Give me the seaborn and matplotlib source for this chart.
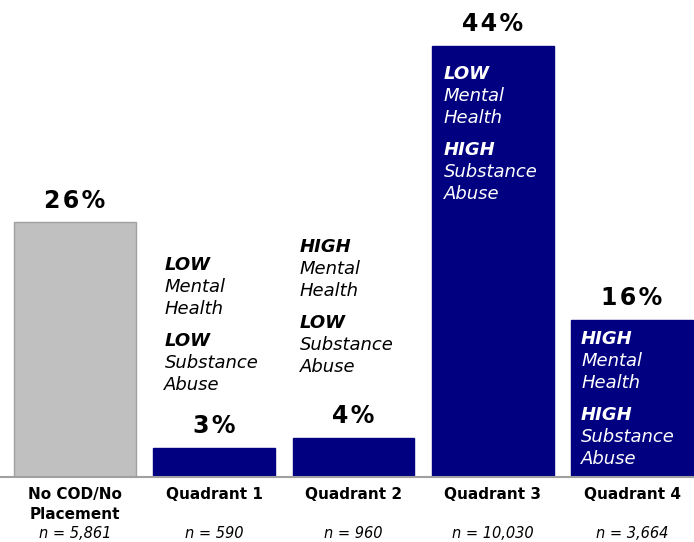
import matplotlib
matplotlib.use("Agg")
import matplotlib.pyplot as plt
import matplotlib.transforms as mtransforms
import seaborn as sns

# data
categories = ["No COD/No\nPlacement", "Quadrant 1", "Quadrant 2", "Quadrant 3", "Quadrant 4"]
percents = [26, 3, 4, 44, 16]
n_labels = ["n = 5,861", "n = 590", "n = 960", "n = 10,030", "n = 3,664"]
mental_level = [None, "LOW", "HIGH", "LOW", "HIGH"]
substance_level = [None, "LOW", "LOW", "HIGH", "HIGH"]
bar_colors = ["#C0C0C0", "#000080", "#000080", "#000080", "#000080"]

sns.set_style("white")
plt.rcParams["font.family"] = ["DejaVu Sans"]

fig = plt.figure(figsize=(6.94, 5.42), dpi=100)
ax = fig.add_axes([0, 65 / 542, 1, 477 / 542])

W = 0.875
sns.barplot(x=list(range(len(percents))), y=percents, hue=list(range(len(percents))),
            palette=bar_colors, width=W, saturation=1, legend=False, ax=ax, native_scale=True)
for i, p in enumerate(ax.patches):
    p.set_edgecolor("#A0A0A0" if i == 0 else bar_colors[i])
    p.set_linewidth(1.0)

ax.set_xlim(-0.538, 4.445)
ax.set_ylim(0, 48.7)
for s in ["top", "right", "left"]:
    ax.spines[s].set_visible(False)
ax.spines["bottom"].set_color("#A0A0A0")
ax.spines["bottom"].set_linewidth(1.5)
ax.set_xticks([])
ax.set_yticks([])
ax.set_xlabel("")
ax.set_ylabel("")

# percent labels (hair spaces give the wide letter spacing)
for i, v in enumerate(percents):
    lbl = "\u200a".join(f"{v}%")
    ax.text(i, v + 1.0, lbl, ha="center", va="bottom", fontsize=17, fontweight="bold", color="black")

# quadrant descriptions (block top in data units, x offset from bar left)
block_top = [None, 21.6, 23.45, 41.1, 14.1]
x_off = [None, 0.08, 0.05, 0.086, 0.072]
text_col = [None, "black", "black", "white", "white"]
step = 22 / 9.8
gap = 10 / 9.8
for i in range(1, len(percents)):
    x0 = i - W / 2 + x_off[i]
    y = block_top[i]
    lines = [(mental_level[i], "bold"), ("Mental", "normal"), ("Health", "normal"),
             (substance_level[i], "bold"), ("Substance", "normal"), ("Abuse", "normal")]
    for k, (txt, wt) in enumerate(lines):
        yy = y - k * step - (gap if k >= 3 else 0)
        ax.text(x0, yy, txt, ha="left", va="center", fontsize=13, fontstyle="italic",
                fontweight=wt, color=text_col[i])

# category and n labels below axis
trans = mtransforms.blended_transform_factory(ax.transData, fig.transFigure)
for i, c in enumerate(categories):
    ax.text(i, 1 - 487 / 542, c, ha="center", va="top", fontsize=11, fontweight="bold",
            color="black", transform=trans, linespacing=1.4)
    ax.text(i, 1 - 534 / 542, n_labels[i], ha="center", va="center", fontsize=10.5,
            fontstyle="italic", color="black", transform=trans)

fig.savefig("out.png", dpi=100)
